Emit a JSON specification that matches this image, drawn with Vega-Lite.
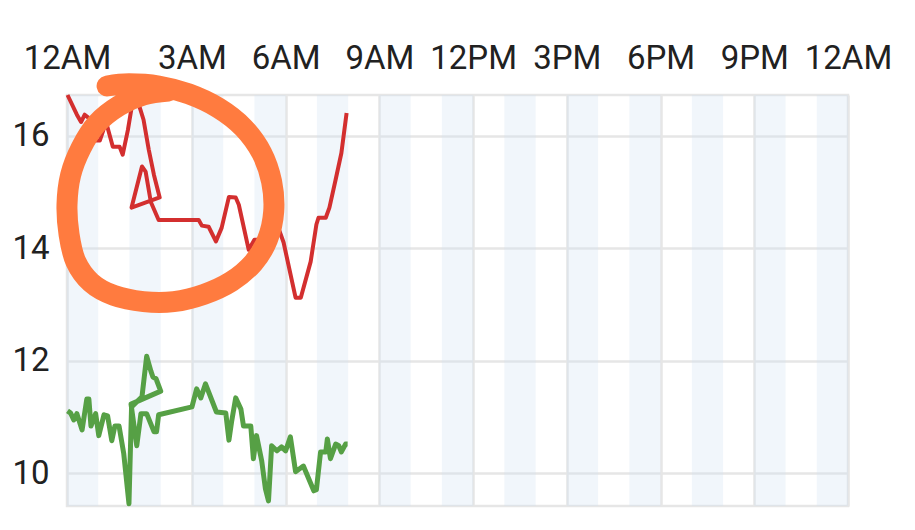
{
  "$schema": "https://vega.github.io/schema/vega-lite/v6.json",
  "width": 781,
  "height": 411,
  "autosize": "none",
  "padding": {"left": 67, "top": 95, "right": 67, "bottom": 24},
  "background": "white",
  "config": {
    "font": "Roboto",
    "view": {"stroke": "#E6E6E6", "strokeWidth": 2.5},
    "axis": {
      "gridColor": "#E6E6E6",
      "gridWidth": 2.5,
      "domain": false,
      "ticks": false,
      "labelFont": "Roboto",
      "labelFontSize": 33,
      "labelColor": "#212121",
      "title": null
    }
  },
  "datasets": {
    "bands": [
      {"start": "2023-12-31T23:00", "end": "2024-01-01T00:00"},
      {"start": "2024-01-01T01:00", "end": "2024-01-01T02:00"},
      {"start": "2024-01-01T03:00", "end": "2024-01-01T04:00"},
      {"start": "2024-01-01T05:00", "end": "2024-01-01T06:00"},
      {"start": "2024-01-01T07:00", "end": "2024-01-01T08:00"},
      {"start": "2024-01-01T09:00", "end": "2024-01-01T10:00"},
      {"start": "2024-01-01T11:00", "end": "2024-01-01T12:00"},
      {"start": "2024-01-01T13:00", "end": "2024-01-01T14:00"},
      {"start": "2024-01-01T15:00", "end": "2024-01-01T16:00"},
      {"start": "2024-01-01T17:00", "end": "2024-01-01T18:00"},
      {"start": "2024-01-01T19:00", "end": "2024-01-01T20:00"},
      {"start": "2024-01-01T21:00", "end": "2024-01-01T22:00"},
      {"start": "2024-01-01T23:00", "end": "2024-01-02T00:00"}
    ],
    "red": [
      {"seq": 1, "time": "2023-12-31T23:01", "value": 16.72},
      {"seq": 2, "time": "2023-12-31T23:19", "value": 16.37},
      {"seq": 3, "time": "2023-12-31T23:27", "value": 16.24},
      {"seq": 4, "time": "2023-12-31T23:34", "value": 16.37},
      {"seq": 5, "time": "2023-12-31T23:42", "value": 16.31},
      {"seq": 6, "time": "2023-12-31T23:53", "value": 15.91},
      {"seq": 7, "time": "2024-01-01T00:03", "value": 15.91},
      {"seq": 8, "time": "2024-01-01T00:15", "value": 16.24},
      {"seq": 9, "time": "2024-01-01T00:28", "value": 15.8},
      {"seq": 10, "time": "2024-01-01T00:41", "value": 15.8},
      {"seq": 11, "time": "2024-01-01T00:47", "value": 15.66},
      {"seq": 12, "time": "2024-01-01T00:57", "value": 16.1},
      {"seq": 13, "time": "2024-01-01T01:04", "value": 16.49},
      {"seq": 14, "time": "2024-01-01T01:14", "value": 16.67},
      {"seq": 15, "time": "2024-01-01T01:27", "value": 16.28},
      {"seq": 16, "time": "2024-01-01T01:37", "value": 15.75},
      {"seq": 17, "time": "2024-01-01T01:47", "value": 15.3},
      {"seq": 18, "time": "2024-01-01T01:58", "value": 14.9},
      {"seq": 19, "time": "2024-01-01T01:04", "value": 14.72},
      {"seq": 20, "time": "2024-01-01T01:24", "value": 15.45},
      {"seq": 21, "time": "2024-01-01T01:31", "value": 15.36},
      {"seq": 22, "time": "2024-01-01T01:41", "value": 14.82},
      {"seq": 23, "time": "2024-01-01T01:56", "value": 14.5},
      {"seq": 24, "time": "2024-01-01T03:13", "value": 14.5},
      {"seq": 25, "time": "2024-01-01T03:19", "value": 14.4},
      {"seq": 26, "time": "2024-01-01T03:32", "value": 14.38},
      {"seq": 27, "time": "2024-01-01T03:46", "value": 14.12},
      {"seq": 28, "time": "2024-01-01T03:57", "value": 14.36},
      {"seq": 29, "time": "2024-01-01T04:11", "value": 14.91},
      {"seq": 30, "time": "2024-01-01T04:24", "value": 14.9},
      {"seq": 31, "time": "2024-01-01T04:30", "value": 14.77},
      {"seq": 32, "time": "2024-01-01T04:49", "value": 13.97},
      {"seq": 33, "time": "2024-01-01T05:00", "value": 14.15},
      {"seq": 34, "time": "2024-01-01T05:14", "value": 14.15},
      {"seq": 35, "time": "2024-01-01T05:31", "value": 14.47},
      {"seq": 36, "time": "2024-01-01T05:46", "value": 14.36},
      {"seq": 37, "time": "2024-01-01T05:56", "value": 14.1},
      {"seq": 38, "time": "2024-01-01T06:19", "value": 13.12},
      {"seq": 39, "time": "2024-01-01T06:29", "value": 13.12},
      {"seq": 40, "time": "2024-01-01T06:48", "value": 13.76},
      {"seq": 41, "time": "2024-01-01T06:59", "value": 14.42},
      {"seq": 42, "time": "2024-01-01T07:03", "value": 14.54},
      {"seq": 43, "time": "2024-01-01T07:17", "value": 14.54},
      {"seq": 44, "time": "2024-01-01T07:24", "value": 14.72},
      {"seq": 45, "time": "2024-01-01T07:36", "value": 15.22},
      {"seq": 46, "time": "2024-01-01T07:47", "value": 15.69},
      {"seq": 47, "time": "2024-01-01T07:57", "value": 16.4}
    ],
    "green": [
      {"seq": 1, "time": "2023-12-31T23:01", "value": 11.11},
      {"seq": 2, "time": "2023-12-31T23:07", "value": 11.07},
      {"seq": 3, "time": "2023-12-31T23:13", "value": 10.95},
      {"seq": 4, "time": "2023-12-31T23:19", "value": 11.06},
      {"seq": 5, "time": "2023-12-31T23:29", "value": 10.77},
      {"seq": 6, "time": "2023-12-31T23:38", "value": 11.32},
      {"seq": 7, "time": "2023-12-31T23:42", "value": 11.32},
      {"seq": 8, "time": "2023-12-31T23:46", "value": 10.84},
      {"seq": 9, "time": "2023-12-31T23:55", "value": 11.06},
      {"seq": 10, "time": "2024-01-01T00:01", "value": 10.67},
      {"seq": 11, "time": "2024-01-01T00:11", "value": 11.04},
      {"seq": 12, "time": "2024-01-01T00:18", "value": 11.02},
      {"seq": 13, "time": "2024-01-01T00:26", "value": 10.58},
      {"seq": 14, "time": "2024-01-01T00:32", "value": 10.84},
      {"seq": 15, "time": "2024-01-01T00:40", "value": 10.84},
      {"seq": 16, "time": "2024-01-01T00:49", "value": 10.35},
      {"seq": 17, "time": "2024-01-01T00:59", "value": 9.46},
      {"seq": 18, "time": "2024-01-01T01:04", "value": 11.18},
      {"seq": 19, "time": "2024-01-01T01:24", "value": 11.36},
      {"seq": 20, "time": "2024-01-01T01:33", "value": 12.08},
      {"seq": 21, "time": "2024-01-01T01:41", "value": 11.82},
      {"seq": 22, "time": "2024-01-01T01:45", "value": 11.71},
      {"seq": 23, "time": "2024-01-01T01:51", "value": 11.68},
      {"seq": 24, "time": "2024-01-01T02:00", "value": 11.46},
      {"seq": 25, "time": "2024-01-01T01:03", "value": 11.23},
      {"seq": 26, "time": "2024-01-01T01:14", "value": 10.49},
      {"seq": 27, "time": "2024-01-01T01:22", "value": 11.06},
      {"seq": 28, "time": "2024-01-01T01:33", "value": 11.06},
      {"seq": 29, "time": "2024-01-01T01:47", "value": 10.74},
      {"seq": 30, "time": "2024-01-01T01:52", "value": 10.74},
      {"seq": 31, "time": "2024-01-01T01:56", "value": 11.04},
      {"seq": 32, "time": "2024-01-01T03:00", "value": 11.18},
      {"seq": 33, "time": "2024-01-01T03:09", "value": 11.5},
      {"seq": 34, "time": "2024-01-01T03:17", "value": 11.34},
      {"seq": 35, "time": "2024-01-01T03:26", "value": 11.59},
      {"seq": 36, "time": "2024-01-01T03:47", "value": 11.09},
      {"seq": 37, "time": "2024-01-01T04:05", "value": 11.07},
      {"seq": 38, "time": "2024-01-01T04:11", "value": 10.59},
      {"seq": 39, "time": "2024-01-01T04:16", "value": 10.91},
      {"seq": 40, "time": "2024-01-01T04:24", "value": 11.34},
      {"seq": 41, "time": "2024-01-01T04:34", "value": 11.14},
      {"seq": 42, "time": "2024-01-01T04:39", "value": 10.84},
      {"seq": 43, "time": "2024-01-01T04:53", "value": 10.84},
      {"seq": 44, "time": "2024-01-01T04:58", "value": 10.26},
      {"seq": 45, "time": "2024-01-01T05:04", "value": 10.67},
      {"seq": 46, "time": "2024-01-01T05:14", "value": 10.22},
      {"seq": 47, "time": "2024-01-01T05:21", "value": 9.73},
      {"seq": 48, "time": "2024-01-01T05:27", "value": 9.51},
      {"seq": 49, "time": "2024-01-01T05:33", "value": 10.49},
      {"seq": 50, "time": "2024-01-01T05:43", "value": 10.4},
      {"seq": 51, "time": "2024-01-01T05:52", "value": 10.47},
      {"seq": 52, "time": "2024-01-01T06:00", "value": 10.4},
      {"seq": 53, "time": "2024-01-01T06:09", "value": 10.65},
      {"seq": 54, "time": "2024-01-01T06:19", "value": 10.03},
      {"seq": 55, "time": "2024-01-01T06:34", "value": 10.13},
      {"seq": 56, "time": "2024-01-01T06:54", "value": 9.69},
      {"seq": 57, "time": "2024-01-01T06:59", "value": 9.71},
      {"seq": 58, "time": "2024-01-01T07:07", "value": 10.38},
      {"seq": 59, "time": "2024-01-01T07:17", "value": 10.38},
      {"seq": 60, "time": "2024-01-01T07:20", "value": 10.61},
      {"seq": 61, "time": "2024-01-01T07:26", "value": 10.26},
      {"seq": 62, "time": "2024-01-01T07:36", "value": 10.52},
      {"seq": 63, "time": "2024-01-01T07:42", "value": 10.49},
      {"seq": 64, "time": "2024-01-01T07:47", "value": 10.38},
      {"seq": 65, "time": "2024-01-01T07:55", "value": 10.52},
      {"seq": 66, "time": "2024-01-01T07:59", "value": 10.52}
    ],
    "circle": [
      {"seq": 1, "time": "2024-01-01T00:17", "value": 16.88},
      {"seq": 2, "time": "2024-01-01T00:59", "value": 16.92},
      {"seq": 3, "time": "2024-01-01T01:56", "value": 16.88},
      {"seq": 4, "time": "2024-01-01T02:54", "value": 16.74},
      {"seq": 5, "time": "2024-01-01T03:51", "value": 16.49},
      {"seq": 6, "time": "2024-01-01T04:39", "value": 16.14},
      {"seq": 7, "time": "2024-01-01T05:14", "value": 15.69},
      {"seq": 8, "time": "2024-01-01T05:33", "value": 15.18},
      {"seq": 9, "time": "2024-01-01T05:37", "value": 14.65},
      {"seq": 10, "time": "2024-01-01T05:25", "value": 14.15},
      {"seq": 11, "time": "2024-01-01T04:58", "value": 13.74},
      {"seq": 12, "time": "2024-01-01T04:16", "value": 13.41},
      {"seq": 13, "time": "2024-01-01T03:23", "value": 13.18},
      {"seq": 14, "time": "2024-01-01T02:25", "value": 13.05},
      {"seq": 15, "time": "2024-01-01T01:27", "value": 13.05},
      {"seq": 16, "time": "2024-01-01T00:30", "value": 13.16},
      {"seq": 17, "time": "2023-12-31T23:46", "value": 13.39},
      {"seq": 18, "time": "2023-12-31T23:17", "value": 13.76},
      {"seq": 19, "time": "2023-12-31T23:04", "value": 14.24},
      {"seq": 20, "time": "2023-12-31T23:00", "value": 14.77},
      {"seq": 21, "time": "2023-12-31T23:07", "value": 15.3},
      {"seq": 22, "time": "2023-12-31T23:27", "value": 15.78},
      {"seq": 23, "time": "2023-12-31T23:57", "value": 16.21},
      {"seq": 24, "time": "2024-01-01T00:40", "value": 16.53},
      {"seq": 25, "time": "2024-01-01T01:27", "value": 16.72},
      {"seq": 26, "time": "2024-01-01T02:15", "value": 16.79}
    ]
  },
  "layer": [
    {
      "data": {"name": "bands"},
      "mark": {"type": "rect", "fill": "#D0E2F2", "opacity": 0.3},
      "encoding": {
        "x": {
          "field": "start",
          "type": "temporal",
          "scale": {"domain": [
            {"year": 2023, "month": 12, "date": 31, "hours": 23},
            {"year": 2024, "month": 1, "date": 2, "hours": 0}
          ]},
          "axis": {
            "orient": "top",
            "grid": true,
            "values": [
              {"year": 2023, "month": 12, "date": 31, "hours": 23},
              {"year": 2024, "month": 1, "date": 1, "hours": 3},
              {"year": 2024, "month": 1, "date": 1, "hours": 6},
              {"year": 2024, "month": 1, "date": 1, "hours": 9},
              {"year": 2024, "month": 1, "date": 1, "hours": 12},
              {"year": 2024, "month": 1, "date": 1, "hours": 15},
              {"year": 2024, "month": 1, "date": 1, "hours": 18},
              {"year": 2024, "month": 1, "date": 1, "hours": 21},
              {"year": 2024, "month": 1, "date": 2, "hours": 0}
            ],
            "labelExpr": "hours(datum.value) == 23 ? '12AM' : timeFormat(datum.value, '%-I%p')",
            "labelPadding": 20,
            "labelFlush": false,
            "labelOverlap": false,
            "labelBound": false
          }
        },
        "x2": {"field": "end"}
      }
    },
    {
      "data": {"name": "red"},
      "mark": {"type": "line", "color": "#D32F2F", "strokeWidth": 4, "strokeJoin": "round"},
      "encoding": {
        "x": {"field": "time", "type": "temporal"},
        "y": {
          "field": "value",
          "type": "quantitative",
          "scale": {"domain": [9.42, 16.72], "nice": false, "zero": false},
          "axis": {
            "orient": "left",
            "grid": true,
            "values": [10, 12, 14, 16],
            "format": "d",
            "labelPadding": 18
          }
        },
        "order": {"field": "seq", "type": "quantitative"}
      }
    },
    {
      "data": {"name": "green"},
      "mark": {"type": "line", "color": "#56A045", "strokeWidth": 5, "strokeJoin": "round"},
      "encoding": {
        "x": {"field": "time", "type": "temporal"},
        "y": {"field": "value", "type": "quantitative"},
        "order": {"field": "seq", "type": "quantitative"}
      }
    },
    {
      "data": {"name": "circle"},
      "mark": {"type": "line", "color": "#FF7B3F", "strokeWidth": 21, "strokeCap": "round", "strokeJoin": "round", "interpolate": "cardinal"},
      "encoding": {
        "x": {"field": "time", "type": "temporal"},
        "y": {"field": "value", "type": "quantitative"},
        "order": {"field": "seq", "type": "quantitative"}
      }
    }
  ]
}
